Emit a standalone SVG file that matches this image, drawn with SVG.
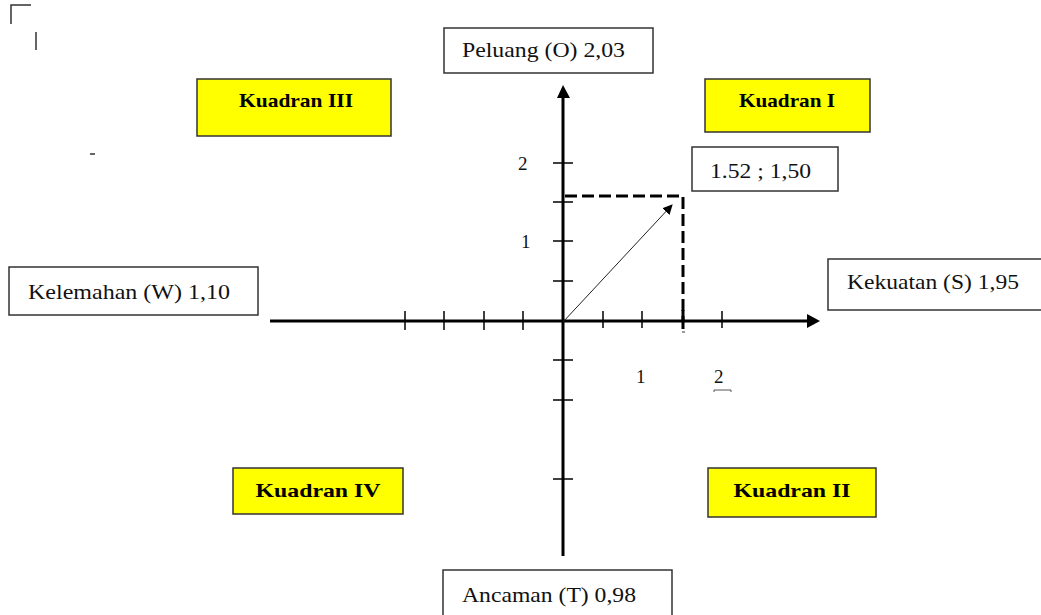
<svg xmlns="http://www.w3.org/2000/svg" width="1041" height="615" viewBox="0 0 1041 615">
<style>
.box{fill:#fff;stroke:#333;stroke-width:1.5}
.quad{fill:#ffff00;stroke:#333;stroke-width:1.5}
.t{font-family:"Liberation Serif","Times New Roman",serif;font-size:21px;fill:#111}
.n{font-family:"Liberation Serif","Times New Roman",serif;font-size:19px;fill:#111}
.q{font-family:"Liberation Serif","Times New Roman",serif;font-size:19px;font-weight:bold;fill:#000;text-anchor:middle}
.ax{stroke:#000;stroke-width:3;fill:none}
.tick{stroke:#000;stroke-width:1.5}
.dash{stroke:#000;stroke-width:3;stroke-dasharray:12 5;fill:none}
</style>
<defs>
<marker id="ah" markerWidth="10" markerHeight="10" refX="9" refY="5" orient="auto" markerUnits="userSpaceOnUse"><path d="M0,0 L10,5 L0,10 Z" fill="#000"/></marker>
</defs>
<g id="corner" stroke="#333" stroke-width="1.5" fill="none">
<path d="M11,24 L11,5 L31,5"/>
<path d="M36,32 L36,50"/>
<path d="M90,154 L95,154"/>
</g>
<g id="connectors">
<line class="ax" x1="270" y1="321" x2="808" y2="321"/>
<path d="M820,321 L807,314 L807,328 Z" fill="#000"/>
<line class="ax" x1="563" y1="97" x2="563" y2="556"/>
<path d="M563,85 L557,98 L570,98 Z" fill="#000"/>
<g class="tick">
<line x1="405" y1="311" x2="405" y2="330"/>
<line x1="444" y1="311" x2="444" y2="330"/>
<line x1="484" y1="311" x2="484" y2="330"/>
<line x1="523" y1="311" x2="523" y2="330"/>
<line x1="603" y1="311" x2="603" y2="328"/>
<line x1="642" y1="311" x2="642" y2="328"/>
<line x1="722" y1="311" x2="722" y2="328"/>
<line x1="553" y1="163" x2="573" y2="163"/>
<line x1="553" y1="202" x2="573" y2="202"/>
<line x1="553" y1="241" x2="573" y2="241"/>
<line x1="553" y1="281" x2="573" y2="281"/>
<line x1="553" y1="360" x2="573" y2="360"/>
<line x1="553" y1="400" x2="573" y2="400"/>
<line x1="553" y1="479" x2="573" y2="479"/>
</g>
<path class="dash" d="M565,196 L683,196 L683,321"/>
<line x1="683" y1="310" x2="683" y2="329" stroke="#000" stroke-width="3"/>
<line x1="682" y1="332" x2="685" y2="332" stroke="#333" stroke-width="1"/>
<line x1="563" y1="322" x2="672" y2="205" stroke="#222" stroke-width="1" marker-end="url(#ah)"/>
<path d="M714,392 L714,390 L731,390 L731,392" stroke="#555" stroke-width="1" fill="none"/>
</g>
<g id="labels">
<text class="n" x="518" y="170">2</text>
<text class="n" x="521" y="248">1</text>
<text class="n" x="636" y="383">1</text>
<text class="n" x="714" y="383">2</text>
</g>
<g id="peluang"><rect class="box" x="444" y="28" width="209" height="45"/><text class="t" x="462" y="57" textLength="163" lengthAdjust="spacingAndGlyphs">Peluang (O) 2,03</text></g>
<g id="kuadran3"><rect class="quad" x="197" y="79" width="194" height="57"/><text class="q" x="296" y="107" textLength="114" lengthAdjust="spacingAndGlyphs">Kuadran III</text></g>
<g id="kuadran1"><rect class="quad" x="705" y="79" width="165" height="53"/><text class="q" x="787" y="107" textLength="96" lengthAdjust="spacingAndGlyphs">Kuadran I</text></g>
<g id="point"><rect class="box" x="692" y="147" width="146" height="44"/><text class="t" x="710" y="178" textLength="101" lengthAdjust="spacingAndGlyphs">1.52 ; 1,50</text></g>
<g id="kelemahan"><rect class="box" x="9" y="267" width="249" height="48"/><text class="t" x="28" y="299" textLength="202" lengthAdjust="spacingAndGlyphs">Kelemahan (W) 1,10</text></g>
<g id="kekuatan"><rect class="box" x="828" y="259" width="214" height="51"/><text class="t" x="847" y="289" textLength="172" lengthAdjust="spacingAndGlyphs">Kekuatan (S) 1,95</text></g>
<g id="kuadran4"><rect class="quad" x="233" y="468" width="170" height="46"/><text class="q" x="318" y="497" textLength="125" lengthAdjust="spacingAndGlyphs">Kuadran IV</text></g>
<g id="kuadran2"><rect class="quad" x="708" y="468" width="168" height="49"/><text class="q" x="792" y="497" textLength="117" lengthAdjust="spacingAndGlyphs">Kuadran II</text></g>
<g id="ancaman"><rect class="box" x="443" y="570" width="229" height="50"/><text class="t" x="462" y="602" textLength="174" lengthAdjust="spacingAndGlyphs">Ancaman (T) 0,98</text></g>
</svg>
